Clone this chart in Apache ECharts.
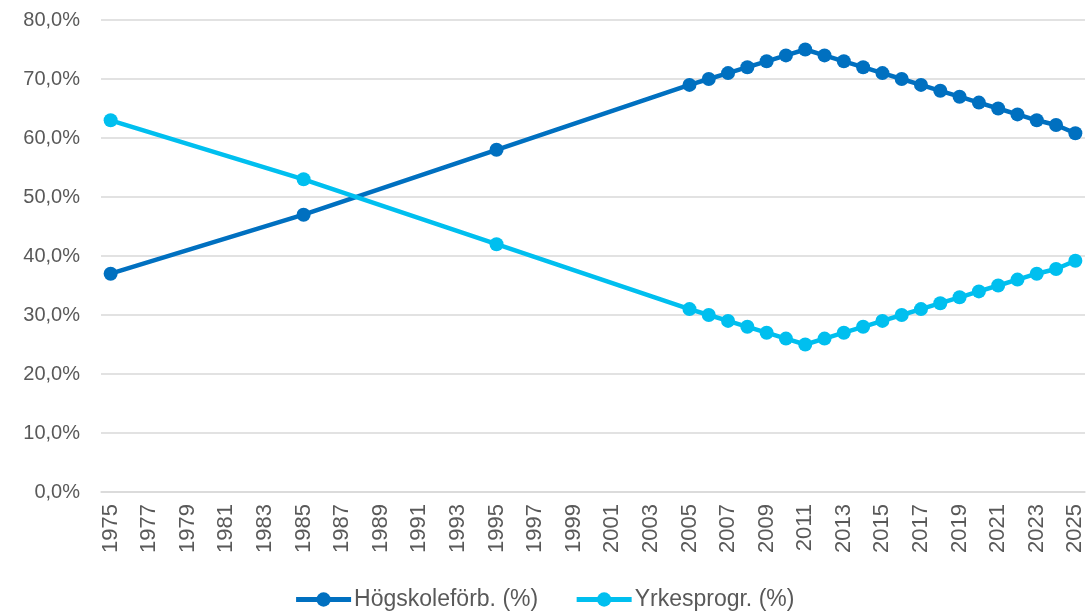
<!DOCTYPE html>
<html>
<head>
<meta charset="utf-8">
<script src="https://cdn.jsdelivr.net/npm/echarts@6/dist/echarts.min.js"></script>
<style>
  html, body { margin: 0; padding: 0; background: #fff; }
  #chart { width: 1088px; height: 615px; }
</style>
</head>
<body>
<div id="chart"></div>
<script>
// years 1975..2025, data only at 1975, 1985, 1995 and yearly from 2005
const years = [];
for (let y = 1975; y <= 2025; y++) years.push(String(y));

const pointYears = ['1975', '1985', '1995', '2005', '2006', '2007', '2008', '2009', '2010',
  '2011', '2012', '2013', '2014', '2015', '2016', '2017', '2018', '2019', '2020',
  '2021', '2022', '2023', '2024', '2025'];

const hogskoleforb = [37, 47, 58, 69, 70, 71, 72, 73, 74,
  75, 74, 73, 72, 71, 70, 69, 68, 67, 66,
  65, 64, 63, 62.2, 60.8];

const yrkesprogr = [63, 53, 42, 31, 30, 29, 28, 27, 26,
  25, 26, 27, 28, 29, 30, 31, 32, 33, 34,
  35, 36, 37, 37.8, 39.2];

// spread onto the full category axis, leaving gaps as null
const toSeries = vals => years.map(y => {
  const i = pointYears.indexOf(y);
  return i >= 0 ? vals[i] : null;
});

const textColor = '#595959';
const gridColor = '#d9d9d9';
const font = 'Liberation Sans, Arial, sans-serif';

const chart = echarts.init(document.getElementById('chart'));
chart.setOption({
  animation: false,
  textStyle: { fontFamily: font },
  grid: { left: 101, right: 3, top: 20, bottom: 123 },
  legend: {
    top: 583,
    left: 'center',
    itemWidth: 55,
    itemHeight: 18,
    itemGap: 36,
    lineStyle: { width: 5 },
    textStyle: { color: textColor, fontSize: 23, fontFamily: font, padding: [0, 0, 0, -2] },
    data: ['Högskoleförb. (%)', 'Yrkesprogr. (%)']
  },
  xAxis: {
    type: 'category',
    data: years,
    boundaryGap: true,
    axisLine: { lineStyle: { color: gridColor, width: 1.5 } },
    axisTick: { interval: 1, length: 6, lineStyle: { color: gridColor, width: 1.5 } },
    axisLabel: {
      interval: 1,
      rotate: 90,
      margin: 12,
      color: textColor,
      fontSize: 22,
      fontFamily: font
    },
    splitLine: { show: false }
  },
  yAxis: {
    type: 'value',
    min: 0,
    max: 80,
    interval: 10,
    axisLine: { show: false },
    axisTick: { show: false },
    axisLabel: {
      margin: 21,
      color: textColor,
      fontSize: 20,
      fontFamily: font,
      formatter: v => v.toFixed(1).replace('.', ',') + '%'
    },
    splitLine: { lineStyle: { color: gridColor, width: 1.5 } }
  },
  series: [
    {
      name: 'Högskoleförb. (%)',
      type: 'line',
      data: toSeries(hogskoleforb),
      connectNulls: true,
      showAllSymbol: true,
      symbol: 'circle',
      symbolSize: 14,
      itemStyle: { color: '#0070C0' },
      lineStyle: { color: '#0070C0', width: 4.5 }
    },
    {
      name: 'Yrkesprogr. (%)',
      type: 'line',
      data: toSeries(yrkesprogr),
      connectNulls: true,
      showAllSymbol: true,
      symbol: 'circle',
      symbolSize: 14,
      itemStyle: { color: '#00BFEF' },
      lineStyle: { color: '#00BFEF', width: 4.5 }
    }
  ]
});
</script>
</body>
</html>
